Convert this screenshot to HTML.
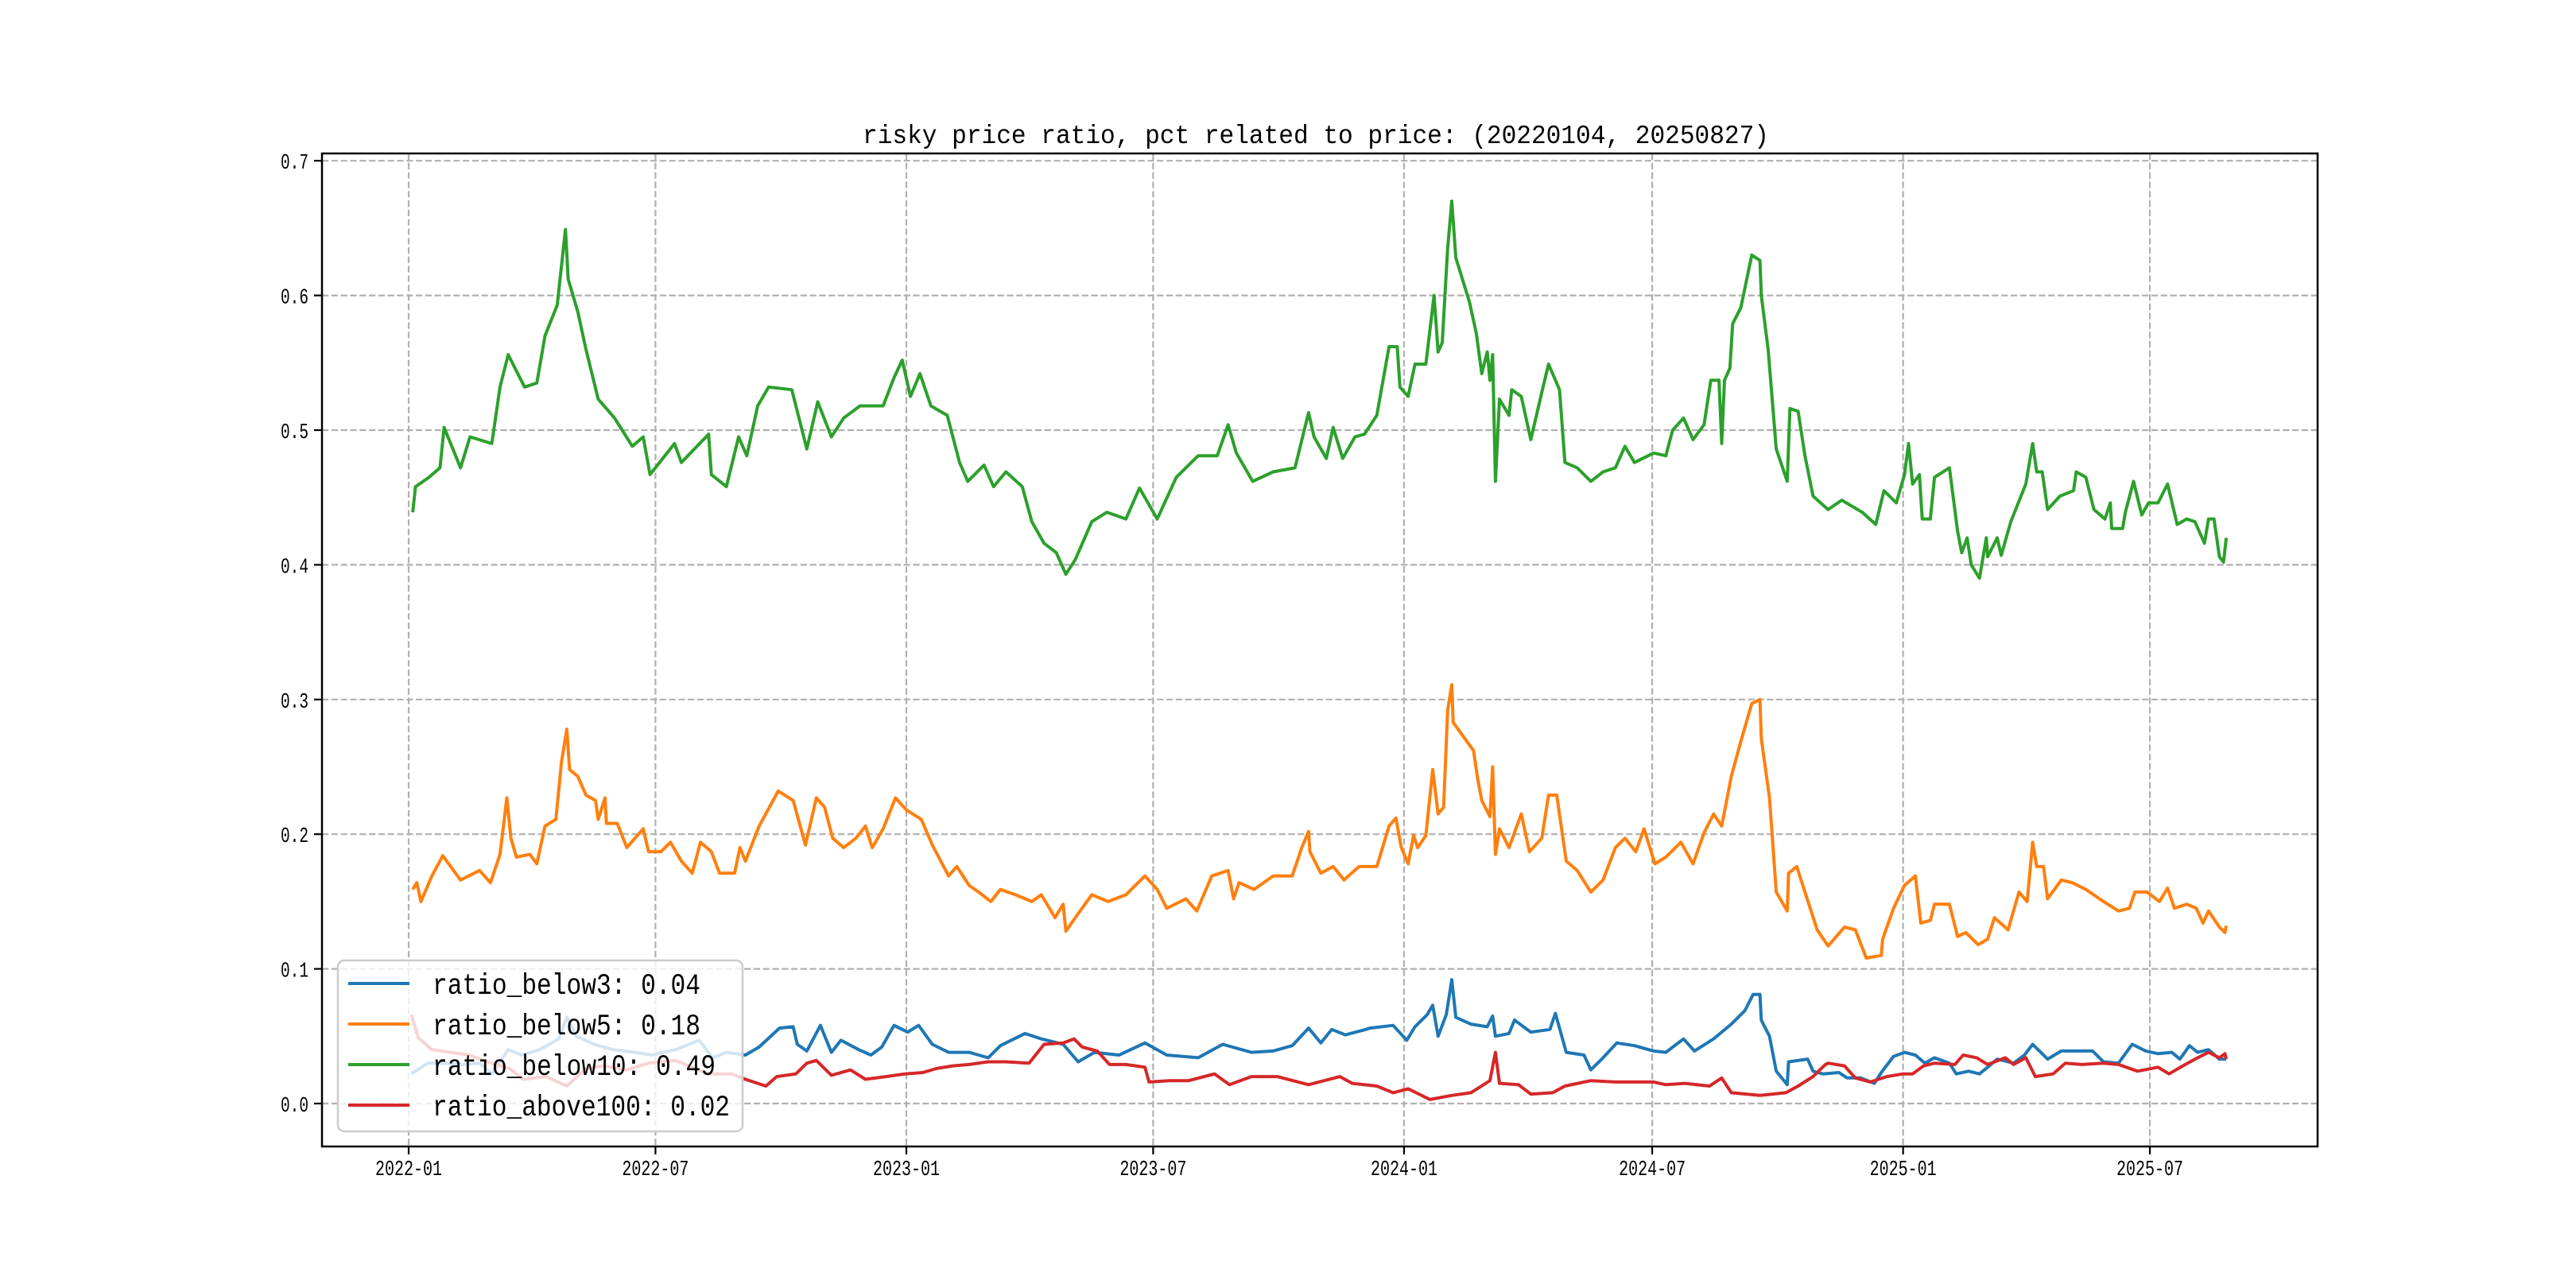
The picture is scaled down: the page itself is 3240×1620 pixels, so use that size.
<!DOCTYPE html>
<html><head><meta charset="utf-8"><style>
html,body{margin:0;padding:0;background:#fff;}
svg{display:block;}
text{font-family:"Liberation Mono","WenQuanYi Zen Hei",monospace;fill:#000;}
</style></head><body>
<svg id="chart" width="3240" height="1620" viewBox="0 0 3240 1620" xmlns="http://www.w3.org/2000/svg">
<rect x="0" y="0" width="3240" height="1620" fill="#fff"/>
<text x="1655" y="180" font-size="33" text-anchor="middle" textLength="1140" lengthAdjust="spacingAndGlyphs">risky price ratio, pct related to price: (20220104, 20250827)</text>
<g id="grid"></g>
<g id="series"></g>
<rect x="405" y="193" width="2510" height="1249" fill="none" stroke="#000" stroke-width="2.5"/>
<g id="ticks"></g>
<g id="legend"></g>
</svg>
<script>
// days since 2022-01-01 and values
const blueDays=[2,14,26,39,52,61,73,83,96,110,116,123,136,150,166,178,196,213,223,233,247,257,272,282,285,292,302,310,317,330,339,347,356,366,374,384,396,411,418,425,434,452,464,480,491,503,521,540,556,579,597,618,634,648,660,669,677,687,702,705,722,732,738,747,751,755,761,765,768,779,791,795,797,807,811,823,837,841,849,862,867,876,886,899,913,922,935,943,957,970,980,986,991,992,998,1003,1011,1012,1026,1030,1037,1049,1055,1065,1075,1080,1089,1097,1105,1112,1119,1130,1135,1144,1152,1158,1165,1177,1185,1191,1202,1212,1223,1235,1243,1254,1264,1274,1283,1293,1299,1306,1312,1320,1328,1333];
const blueVals=[.022,.030,.030,.029,.030,.022,.040,.036,.040,.048,.064,.050,.044,.040,.038,.036,.040,.047,.034,.038,.036,.042,.056,.057,.044,.039,.058,.038,.047,.040,.036,.042,.058,.053,.058,.044,.038,.038,.036,.034,.043,.052,.048,.044,.031,.038,.036,.045,.036,.034,.044,.038,.039,.043,.056,.045,.055,.051,.055,.056,.058,.047,.057,.066,.073,.050,.066,.092,.064,.059,.057,.065,.050,.052,.062,.053,.055,.067,.038,.036,.025,.034,.045,.043,.039,.038,.048,.039,.048,.059,.069,.081,.081,.062,.050,.024,.014,.031,.033,.024,.022,.023,.019,.019,.015,.023,.035,.038,.036,.030,.034,.030,.022,.024,.022,.027,.033,.030,.036,.044,.033,.039,.039,.039,.031,.030,.044,.039,.037,.038,.033,.043,.038,.040,.033,.033];
const orangeDays=[3,6,9,17,25,38,52,60,67,72,75,79,89,94,100,108,112,116,118,124,130,137,139,144,145,153,160,172,176,185,192,200,208,214,222,228,239,243,247,257,271,282,291,299,305,311,319,328,335,340,348,357,365,376,384,396,402,411,418,427,434,445,457,464,474,480,482,491,501,513,526,540,549,556,570,578,589,601,605,609,620,634,648,655,660,661,669,678,686,697,710,719,724,728,733,737,740,746,751,755,759,762,765,766,781,784,787,793,795,797,800,807,816,822,831,836,842,849,857,867,876,885,892,900,906,914,922,933,942,950,957,963,970,977,985,991,992,998,1003,1011,1012,1018,1024,1033,1041,1053,1061,1069,1080,1081,1089,1097,1105,1109,1116,1119,1130,1136,1142,1151,1158,1163,1173,1181,1187,1191,1194,1199,1202,1212,1220,1230,1243,1254,1262,1266,1275,1284,1290,1295,1304,1311,1316,1320,1328,1332,1333];
const orangeVals=[.159,.164,.150,.169,.184,.166,.173,.164,.185,.227,.197,.183,.185,.178,.206,.211,.253,.278,.248,.243,.229,.225,.211,.227,.208,.208,.190,.204,.187,.187,.194,.180,.171,.194,.187,.171,.171,.190,.180,.206,.232,.225,.192,.227,.220,.197,.190,.197,.206,.190,.204,.227,.218,.211,.192,.169,.176,.162,.157,.150,.159,.155,.150,.155,.138,.148,.128,.141,.155,.150,.155,.169,.159,.145,.152,.143,.169,.173,.152,.164,.159,.169,.169,.190,.202,.187,.171,.176,.166,.176,.176,.206,.212,.190,.178,.199,.190,.199,.248,.215,.220,.292,.311,.283,.262,.241,.225,.213,.250,.185,.204,.190,.215,.187,.197,.229,.229,.180,.173,.157,.166,.190,.197,.187,.204,.178,.183,.194,.178,.201,.215,.206,.243,.269,.297,.300,.271,.227,.157,.143,.171,.176,.157,.129,.117,.131,.129,.108,.110,.122,.145,.162,.169,.134,.136,.148,.148,.124,.127,.118,.122,.138,.129,.157,.150,.194,.176,.176,.152,.166,.164,.159,.150,.143,.145,.157,.157,.150,.160,.145,.148,.145,.134,.143,.131,.127,.132];
const greenDays=[3,5,15,23,26,38,45,61,67,73,85,94,100,109,115,117,124,130,139,151,164,172,177,195,200,220,222,233,242,248,256,264,281,292,300,310,319,331,348,356,362,368,375,383,395,404,410,422,429,438,450,457,466,475,482,489,501,512,526,536,549,563,579,593,601,607,619,634,650,660,664,673,678,685,694,701,710,719,725,727,733,738,746,752,755,758,762,765,768,778,783,787,791,793,795,797,800,807,809,816,823,831,836,844,848,857,867,876,885,892,899,913,922,927,935,942,950,955,961,963,965,969,971,977,985,991,992,997,1003,1011,1013,1019,1024,1030,1041,1051,1066,1076,1082,1091,1097,1100,1103,1108,1110,1116,1119,1130,1136,1139,1143,1146,1152,1157,1158,1165,1168,1175,1186,1191,1194,1198,1202,1211,1221,1223,1230,1236,1244,1248,1249,1257,1259,1265,1271,1276,1283,1290,1297,1304,1310,1317,1320,1324,1328,1331,1333];
const greenVals=[.439,.458,.465,.472,.502,.472,.495,.490,.532,.556,.532,.535,.570,.593,.649,.612,.588,.560,.523,.509,.488,.495,.467,.490,.476,.497,.467,.458,.495,.481,.518,.532,.530,.486,.521,.495,.509,.518,.518,.539,.552,.525,.542,.518,.511,.476,.462,.474,.458,.469,.458,.432,.416,.409,.393,.404,.432,.439,.434,.457,.434,.465,.481,.481,.504,.483,.462,.469,.472,.513,.495,.479,.502,.479,.495,.497,.511,.562,.562,.532,.525,.549,.549,.600,.558,.565,.635,.670,.628,.595,.572,.542,.558,.537,.556,.462,.523,.511,.530,.525,.493,.528,.549,.530,.476,.472,.462,.469,.472,.488,.476,.483,.481,.500,.509,.493,.504,.537,.537,.490,.537,.546,.579,.591,.630,.626,.600,.560,.486,.462,.516,.514,.481,.451,.441,.448,.439,.430,.455,.446,.467,.490,.460,.467,.434,.434,.465,.472,.425,.409,.420,.400,.390,.420,.406,.420,.407,.432,.460,.490,.469,.469,.441,.451,.455,.469,.465,.441,.434,.446,.427,.427,.439,.462,.437,.446,.446,.460,.430,.434,.432,.416,.434,.434,.406,.402,.420];
const redDays=[2,7,17,31,44,61,74,84,101,116,130,143,160,176,196,210,220,237,247,262,270,284,292,299,310,324,335,350,364,377,387,399,411,425,438,455,466,480,488,494,505,514,526,540,543,558,572,591,602,618,637,660,683,692,710,722,733,749,765,779,793,797,800,814,823,839,848,867,885,899,913,922,936,954,963,970,991,1010,1019,1030,1039,1041,1053,1061,1072,1084,1096,1103,1111,1119,1134,1140,1150,1158,1171,1177,1186,1193,1206,1215,1227,1243,1254,1268,1283,1291,1303,1312,1320,1328,1332,1333];
const redVals=[.066,.049,.040,.038,.036,.030,.026,.018,.020,.013,.026,.028,.025,.030,.032,.026,.022,.022,.018,.013,.020,.022,.030,.032,.021,.025,.018,.020,.022,.023,.026,.028,.029,.031,.031,.030,.044,.045,.048,.042,.039,.029,.029,.027,.016,.017,.017,.022,.014,.020,.020,.014,.020,.015,.013,.008,.011,.003,.006,.008,.017,.038,.015,.014,.007,.008,.013,.017,.016,.016,.016,.014,.015,.013,.019,.008,.006,.008,.013,.020,.029,.030,.028,.019,.016,.020,.022,.022,.028,.030,.029,.036,.034,.029,.034,.029,.034,.020,.022,.030,.029,.030,.029,.024,.027,.022,.029,.034,.038,.034,.037,.033];
const yTicks=[0.0,0.1,0.2,0.3,0.4,0.5,0.6,0.7];
const xTickLabels=["2022-01","2022-07","2023-01","2023-07","2024-01","2024-07","2025-01","2025-07"];
const legendLabels=["ratio_below3: 0.04","ratio_below5: 0.18","ratio_below10: 0.49","ratio_above100: 0.02"];

const NS="http://www.w3.org/2000/svg";
const X0=405,X1=2915,Y0=193,Y1=1442;
function xScale(d){return 514+d*1.715;}
function yScale(v){return 1388-v*1694;}
function dayOf(label){const [y,m]=label.split("-").map(Number);return (Date.UTC(y,m-1,1)-Date.UTC(2022,0,1))/86400000;}
function mk(tag,attrs,parent){const e=document.createElementNS(NS,tag);for(const k in attrs)e.setAttribute(k,attrs[k]);parent.appendChild(e);return e;}
const grid=document.getElementById('grid'),ticks=document.getElementById('ticks'),series=document.getElementById('series'),legend=document.getElementById('legend');
const gs={stroke:"#b0b0b0","stroke-width":2.2,"stroke-dasharray":"8.2,3.6"};
yTicks.forEach(v=>{
  const y=yScale(v);
  const g=mk('line',Object.assign({x1:X0,x2:X1,y1:y,y2:y},gs),grid);
  
  
  const t=mk('line',{x1:X0-10,x2:X0,y1:y,y2:y,stroke:"#000","stroke-width":2.2},ticks);
  
  
  const l=mk('text',{x:388,y:y+10,"font-size":27,"text-anchor":"end",textLength:35,lengthAdjust:"spacingAndGlyphs"},ticks);
  l.textContent=v.toFixed(1);
  
  
});
xTickLabels.forEach(s=>{
  const x=xScale(dayOf(s));
  const g=mk('line',Object.assign({x1:x,x2:x,y1:Y0,y2:Y1},gs),grid);
  
  
  const t=mk('line',{x1:x,x2:x,y1:Y1,y2:Y1+10,stroke:"#000","stroke-width":2.2},ticks);
  
  
  const l=mk('text',{x:x,y:1478,"font-size":27,"text-anchor":"middle",textLength:84,lengthAdjust:"spacingAndGlyphs"},ticks);
  l.textContent=s;
  
  
});
const defs=[[blueDays,blueVals,"#1f77b4","line-ratio-below3"],[orangeDays,orangeVals,"#ff7f0e","line-ratio-below5"],[greenDays,greenVals,"#2ca02c","line-ratio-below10"],[redDays,redVals,"#d62728","line-ratio-above100"]];
defs.forEach(([ds,vs,c,n])=>{
  const pts=ds.map((d,i)=>xScale(d).toFixed(1)+","+yScale(vs[i]).toFixed(1)).join(" ");
  const p=mk('polyline',{points:pts,fill:"none",stroke:c,"stroke-width":4,"stroke-linejoin":"round"},series);
  
  
});
const box=mk('rect',{x:425,y:1208,width:509,height:215,rx:8,fill:"#fff","fill-opacity":0.8,stroke:"#cccccc","stroke-width":2.5},legend);


const colors=["#1f77b4","#ff7f0e","#2ca02c","#d62728"];
const lens=[337,337,356,374];
legendLabels.forEach((s,i)=>{
  const y=1237+i*51;
  const h=mk('line',{x1:438,x2:515,y1:y,y2:y,stroke:colors[i],"stroke-width":4},legend);
  
  
  const t=mk('text',{x:544,y:y+13,"font-size":37,textLength:lens[i],lengthAdjust:"spacingAndGlyphs"},legend);
  t.textContent=s;
  
  
});
</script>
</body></html>
